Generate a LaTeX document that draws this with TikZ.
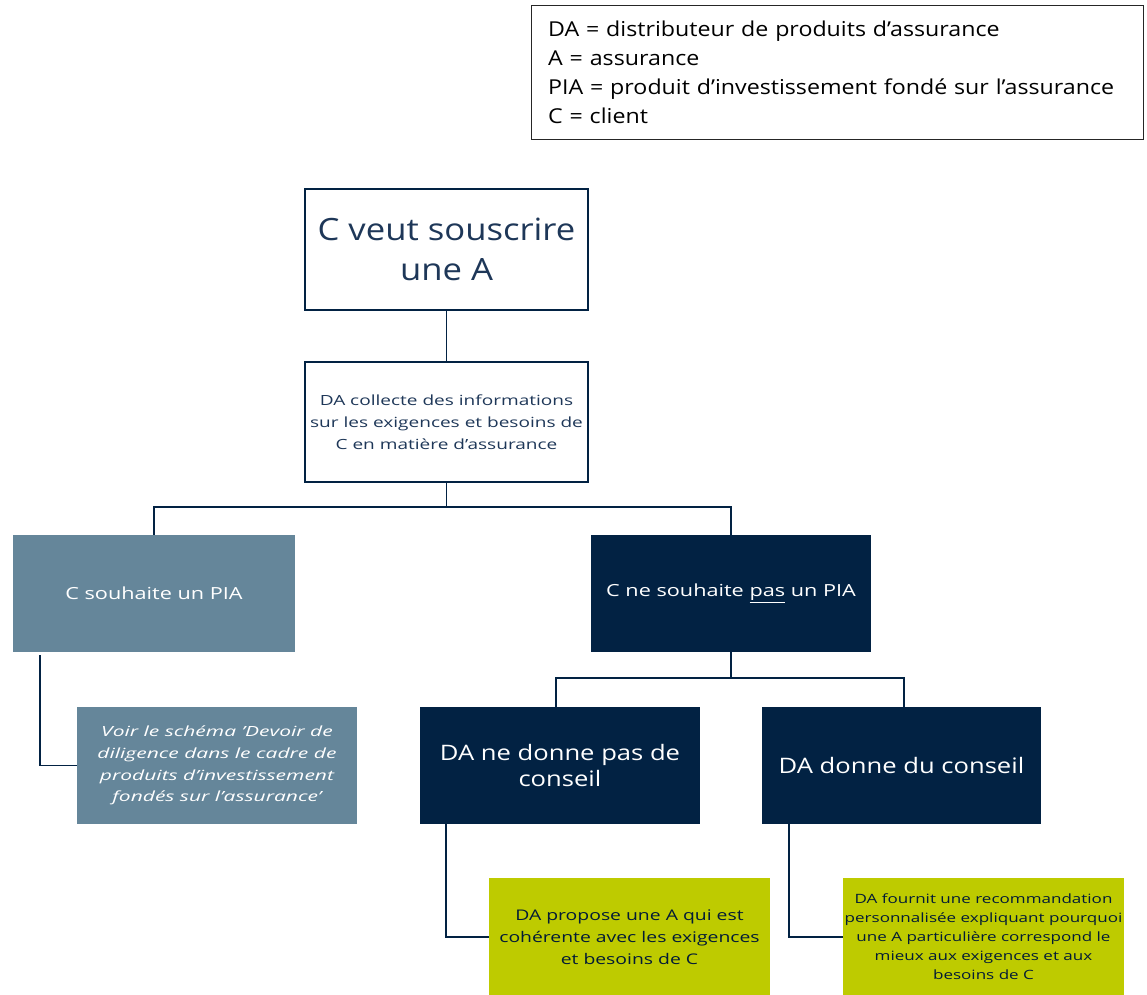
\documentclass[tikz,border=0pt]{standalone}
\usepackage{fontspec}
\setmainfont{Open Sans}
\usepackage{xcolor}
\usetikzlibrary{calc,positioning}
\definecolor{navybox}{RGB}{2,34,67}
\definecolor{slatebox}{RGB}{101,134,154}
\definecolor{limebox}{RGB}{190,203,0}
\definecolor{navytext}{RGB}{30,55,88}
\newcommand{\boxfont}[3]{\addfontfeatures{FakeStretch=#1}\fontsize{#2}{#3}\selectfont}
\tikzset{
  flowbox/.style={draw=navybox, line width=1.3pt, align=center, inner sep=1pt, text=navytext, minimum width=212pt},
  darkbox/.style={fill=navybox, draw=none, text=white, align=center, minimum width=210pt, minimum height=88pt},
  slatebox/.style={fill=slatebox, draw=none, text=white, align=center, minimum width=211pt, minimum height=88pt},
  limebox/.style={fill=limebox, draw=none, text=navybox!80!black, align=center, inner sep=1pt, minimum width=211pt, minimum height=89pt},
  link/.style={draw=navybox, line width=1.3pt}
}
\begin{document}
\begin{tikzpicture}[x=0.75pt,y=-0.75pt]
                        \useasboundingbox (0,0) rectangle (1147,995);

                        % Legend
                        \node [draw=black!85, line width=0.9pt, minimum width=459pt, minimum height=101pt,
                          align=left, text width=434pt, font=\boxfont{1.13}{15.4}{21.75}] (legend) at (837.5,72.5)
                          {DA = distributeur de produits d’assurance\\
                           A = assurance\\
                           PIA = produit d’investissement fondé sur l’assurance\\
                           C = client};

                        % Top boxes
                        \node [flowbox, minimum height=91pt, font=\boxfont{1.13}{23}{29.5}] (want) at (446.5,249.5)
                          {C veut souscrire\\une A};
                        \node [flowbox, minimum height=90pt, font=\boxfont{1.36}{10.5}{16.5}] (collect) at (446.5,422)
                          {DA collecte des informations\\sur les exigences et besoins de\\C en matière d'assurance};

                        % Second level
                        \node [slatebox, font=\boxfont{1.3}{12.5}{15}] (pia) at (154,593.5) {C souhaite un PIA};
                        \node [darkbox, font=\boxfont{1.3}{12.5}{15}] (nopia) at (731,593.5) {C ne souhaite \underline{pas} un PIA};

                        % Third level
                        \node [slatebox, minimum width=210pt, font=\itshape\boxfont{1.5}{10.5}{16.3}] (voir) at (217,765.5)
                          {Voir le schéma 'Devoir de\\diligence dans le cadre de\\produits d'investissement\\fondés sur l'assurance'};
                        \node [darkbox, font=\boxfont{1.2}{16}{20}] (noadvice) at (560,765.5) {DA ne donne pas de\\conseil};
                        \node [darkbox, minimum width=209pt, font=\boxfont{1.2}{16}{20}] (advice) at (901.5,765.5) {DA donne du conseil};

                        % Bottom boxes
                        \node [limebox, font=\boxfont{1.32}{11}{16.5}] (propose) at (629.5,937)
                          {DA propose une A qui est\\cohérente avec les exigences\\et besoins de C};
                        \node [limebox, font=\boxfont{1.33}{9.6}{14.2}] (recomm) at (983.5,937)
                          {DA fournit une recommandation\\personnalisée expliquant pourquoi\\une A particulière correspond le\\mieux aux exigences et aux\\besoins de C};

                        % Fork points
                        \coordinate (forkA) at (446.5,507);
                        \coordinate (forkB) at (731,678);

                        % Drawing links
                        \draw [link] (want) -- (collect);
                        \draw [link] (collect) -- (forkA);
                        \draw [link] (forkA) -| (pia);
                        \draw [link] (forkA) -| (nopia);
                        \draw [link] (nopia) -- (forkB);
                        \draw [link] (forkB) -| ([xshift=-3pt]noadvice.north);
                        \draw [link] (forkB) -| ([xshift=2pt]advice.north);
                        \draw [link] ($(pia.south west)+(27,3)$) |- (voir.west);
                        \draw [link] ($(noadvice.south west)+(26,0)$) |- (propose.west);
                        \draw [link] ($(advice.south west)+(27,0)$) |- (recomm.west);
                    \end{tikzpicture}
\end{document}
